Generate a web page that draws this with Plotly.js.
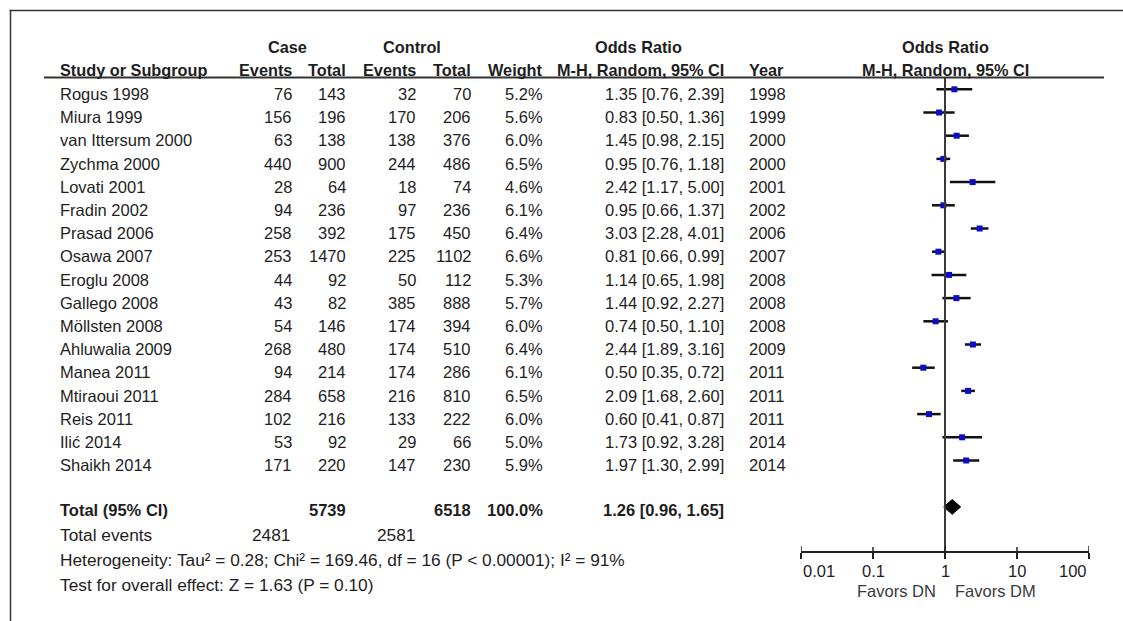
<!DOCTYPE html>
<html>
<head>
<meta charset="utf-8">
<script src="https://cdn.plot.ly/plotly-3.0.1.min.js"></script>
<style>
  html, body { margin: 0; padding: 0; background: #fff; }
  #chart { width: 1123px; height: 621px; }
</style>
</head>
<body>
<div id="chart"></div>
<script>
// ---- Study-level data ----
const studies = ["Rogus 1998", "Miura 1999", "van Ittersum 2000", "Zychma 2000", "Lovati 2001",
  "Fradin 2002", "Prasad 2006", "Osawa 2007", "Eroglu 2008", "Gallego 2008", "Möllsten 2008",
  "Ahluwalia 2009", "Manea 2011", "Mtiraoui 2011", "Reis 2011", "Ilić 2014", "Shaikh 2014"];
const caseEvents = [76, 156, 63, 440, 28, 94, 258, 253, 44, 43, 54, 268, 94, 284, 102, 53, 171];
const caseTotal  = [143, 196, 138, 900, 64, 236, 392, 1470, 92, 82, 146, 480, 214, 658, 216, 92, 220];
const ctrlEvents = [32, 170, 138, 244, 18, 97, 175, 225, 50, 385, 174, 174, 174, 216, 133, 29, 147];
const ctrlTotal  = [70, 206, 376, 486, 74, 236, 450, 1102, 112, 888, 394, 510, 286, 810, 222, 66, 230];
const weights    = [5.2, 5.6, 6.0, 6.5, 4.6, 6.1, 6.4, 6.6, 5.3, 5.7, 6.0, 6.4, 6.1, 6.5, 6.0, 5.0, 5.9];
const oddsRatio  = [1.35, 0.83, 1.45, 0.95, 2.42, 0.95, 3.03, 0.81, 1.14, 1.44, 0.74, 2.44, 0.50, 2.09, 0.60, 1.73, 1.97];
const ciLower    = [0.76, 0.50, 0.98, 0.76, 1.17, 0.66, 2.28, 0.66, 0.65, 0.92, 0.50, 1.89, 0.35, 1.68, 0.41, 0.92, 1.30];
const ciUpper    = [2.39, 1.36, 2.15, 1.18, 5.00, 1.37, 4.01, 0.99, 1.98, 2.27, 1.10, 3.16, 0.72, 2.60, 0.87, 3.28, 2.99];
const years      = [1998, 1999, 2000, 2000, 2001, 2002, 2006, 2007, 2008, 2008, 2008, 2009, 2011, 2011, 2011, 2014, 2014];

// ---- Pooled result ----
const totalCaseEvents = 2481;
const totalCaseN = 5739;
const totalCtrlEvents = 2581;
const totalCtrlN = 6518;
const totalWeight = 100.0;
const pooledOR = 1.26;
const pooledLower = 0.96;
const pooledUpper = 1.65;
const heterogeneityText = "Heterogeneity: Tau² = 0.28; Chi² = 169.46, df = 16 (P < 0.00001); I² = 91%";
const overallEffectText = "Test for overall effect: Z = 1.63 (P = 0.10)";

// ---- Axis ----
const axisTicks = [0.01, 0.1, 1, 10, 100];
const axisTickText = ["0.01", "0.1", "1", "10", "100"];
const favorsLeft = "Favors DN";
const favorsRight = "Favors DM";

// ---- Page geometry ----
const W = 1123, H = 621;
const px = x => x / W;          // pixel column -> paper x
const py = y => 1 - y / H;      // pixel row -> paper y
const rowTop = 89.3, rowStep = 23.2;   // first forest row and row spacing
const textShift = 0.2;                 // table text sits slightly below the forest marks
const totalRow = studies.length + 1;   // one blank row before the pooled estimate
const FONT = "Liberation Sans, Arial, sans-serif";
const INK = "#1e1e1e";

// table columns (pixel positions)
const COL = { name: 58, caseEv: 294, caseN: 348, ctrlEv: 418, ctrlN: 473, weight: 545, or: 726, year: 747 };

const fmt2 = v => v.toFixed(2);
const orLabel = (o, l, u) => `${fmt2(o)} [${fmt2(l)}, ${fmt2(u)}]`;

// ---- Traces ----
const ciX = [], ciY = [];
studies.forEach((s, i) => { ciX.push(ciLower[i], ciUpper[i], null); ciY.push(i, i, null); });

const ciTrace = {
  x: ciX, y: ciY, type: "scatter", mode: "lines",
  line: { color: "#111", width: 2.5 }, hoverinfo: "skip"
};
const pointTrace = {
  x: oddsRatio, y: studies.map((s, i) => i), type: "scatter", mode: "markers",
  marker: { symbol: "square", size: 6, color: "#0c0cc4", line: { width: 0 } },
  hoverinfo: "skip"
};
const halfH = 0.32;
const diamondTrace = {
  x: [pooledLower, pooledOR, pooledUpper, pooledOR, pooledLower],
  y: [totalRow, totalRow - halfH, totalRow, totalRow + halfH, totalRow],
  type: "scatter", mode: "lines", fill: "toself",
  fillcolor: "#000", line: { color: "#000", width: 1 }, hoverinfo: "skip"
};

// ---- Text ----
const annotations = [];
function addText(text, x, y, xanchor, opt = {}) {
  annotations.push({
    text, x: px(x), y, xref: "paper", yref: opt.yref || "paper",
    xanchor, yanchor: "middle", showarrow: false,
    font: { family: FONT, size: opt.size || 16.5, color: opt.color || INK }
  });
}

// column headers
const hdr = { size: 16.3 };
addText("<b>Case</b>", 287, py(47), "center", hdr);
addText("<b>Control</b>", 412, py(47), "center", hdr);
addText("<b>Odds Ratio</b>", 638, py(47), "center", hdr);
addText("<b>Study or Subgroup</b>", COL.name, py(70), "left", hdr);
addText("<b>Events</b>", COL.caseEv, py(70), "right", hdr);
addText("<b>Total</b>", COL.caseN, py(70), "right", hdr);
addText("<b>Events</b>", COL.ctrlEv, py(70), "right", hdr);
addText("<b>Total</b>", COL.ctrlN, py(70), "right", hdr);
addText("<b>Weight</b>", COL.weight, py(70), "right", hdr);
addText("<b>M-H, Random, 95% CI</b>", COL.or, py(70), "right", hdr);
addText("<b>Year</b>", COL.year, py(70), "left", hdr);
// forest header centred over the line of no effect
[["<b>Odds Ratio</b>", 47], ["<b>M-H, Random, 95% CI</b>", 70]].forEach(([t, y]) => {
  annotations.push({
    text: t, x: Math.log10(1), xref: "x", y: py(y), yref: "paper",
    xanchor: "center", yanchor: "middle", showarrow: false,
    font: { family: FONT, size: hdr.size, color: INK }
  });
});

// study rows
studies.forEach((s, i) => {
  const o = { yref: "y" };
  const y = i + textShift;
  addText(s, COL.name, y, "left", o);
  addText(String(caseEvents[i]), COL.caseEv, y, "right", o);
  addText(String(caseTotal[i]), COL.caseN, y, "right", o);
  addText(String(ctrlEvents[i]), COL.ctrlEv, y, "right", o);
  addText(String(ctrlTotal[i]), COL.ctrlN, y, "right", o);
  addText(weights[i].toFixed(1) + "%", COL.weight, y, "right", o);
  addText(orLabel(oddsRatio[i], ciLower[i], ciUpper[i]), COL.or, y, "right", o);
  addText(String(years[i]), COL.year, y, "left", o);
});

// pooled row and footer
addText("<b>Total (95% CI)</b>", COL.name, py(510), "left");
addText("<b>" + totalCaseN + "</b>", COL.caseN, py(510), "right");
addText("<b>" + totalCtrlN + "</b>", COL.ctrlN, py(510), "right");
addText("<b>" + totalWeight.toFixed(1) + "%</b>", COL.weight, py(510), "right");
addText("<b>" + orLabel(pooledOR, pooledLower, pooledUpper) + "</b>", COL.or, py(510), "right");
const foot = { size: 17.3 };
addText("Total events", COL.name, py(535), "left", foot);
addText(String(totalCaseEvents), COL.caseEv - 2, py(535), "right", foot);
addText(String(totalCtrlEvents), COL.ctrlEv - 1, py(535), "right", foot);
addText(heterogeneityText, COL.name, py(560), "left", foot);
addText(overallEffectText, COL.name, py(585), "left", foot);

// forest axis labels (end labels kept inside the axis span)
axisTicks.forEach((t, k) => {
  const anchor = k === 0 ? "left" : (k === axisTicks.length - 1 ? "right" : "center");
  annotations.push({
    text: axisTickText[k], x: Math.log10(t), xref: "x", y: py(570.5), yref: "paper",
    xanchor: anchor, yanchor: "middle", showarrow: false,
    font: { family: FONT, size: 16.5, color: INK }
  });
});
annotations.push({
  text: favorsLeft, x: Math.log10(1), xref: "x", xshift: -7, y: py(591), yref: "paper",
  xanchor: "right", yanchor: "middle", showarrow: false,
  font: { family: FONT, size: 16.5, color: "#3a3a3a" }
});
annotations.push({
  text: favorsRight, x: Math.log10(1), xref: "x", xshift: 8, y: py(591), yref: "paper",
  xanchor: "left", yanchor: "middle", showarrow: false,
  font: { family: FONT, size: 16.5, color: "#3a3a3a" }
});

// ---- Rules and frame ----
const shapes = [
  // outer frame (top and left edges)
  { type: "line", xref: "paper", yref: "paper", x0: px(9.5), x1: 1, y0: py(10.5), y1: py(10.5),
    line: { color: "#333", width: 1.5 } },
  { type: "line", xref: "paper", yref: "paper", x0: px(10.5), x1: px(10.5), y0: 0, y1: py(10),
    line: { color: "#333", width: 1.5 } },
  // header rule
  { type: "line", xref: "paper", yref: "paper", x0: px(44), x1: px(1104), y0: py(77.5), y1: py(77.5),
    line: { color: "#333", width: 2 } },
  // line of no effect
  { type: "line", xref: "x", yref: "paper", x0: 1, x1: 1, y0: py(551), y1: py(77.5),
    line: { color: "#3a3a3a", width: 2 } }
];
// tick marks cross the axis line: upper halves
axisTicks.forEach((t, k) => {
  const up = (k === 0 || k === axisTicks.length - 1) ? 5 : 4;
  shapes.push({ type: "line", xref: "x", yref: "paper", x0: t, x1: t, y0: py(551), y1: py(551 - up),
    line: { color: "#222", width: 1.5 } });
});

const layout = {
  width: W, height: H,
  margin: { l: 0, r: 0, t: 0, b: 0, pad: 0 },
  paper_bgcolor: "#fff", plot_bgcolor: "rgba(0,0,0,0)",
  showlegend: false,
  xaxis: {
    type: "log", range: [-2, 2],
    domain: [px(801), px(1089)],
    anchor: "free", position: py(551),
    showline: true, linecolor: "#222", linewidth: 1.5,
    ticks: "outside", ticklen: 6, tickwidth: 1.5, tickcolor: "#222",
    tickvals: axisTicks, showticklabels: false,
    showgrid: false, zeroline: false, fixedrange: true
  },
  yaxis: {
    range: [(H - rowTop) / rowStep, -rowTop / rowStep],
    domain: [0, 1], visible: false, showgrid: false, zeroline: false, fixedrange: true
  },
  annotations, shapes
};

Plotly.newPlot("chart", [ciTrace, pointTrace, diamondTrace], layout,
  { staticPlot: true, displayModeBar: false });
</script>
</body>
</html>
